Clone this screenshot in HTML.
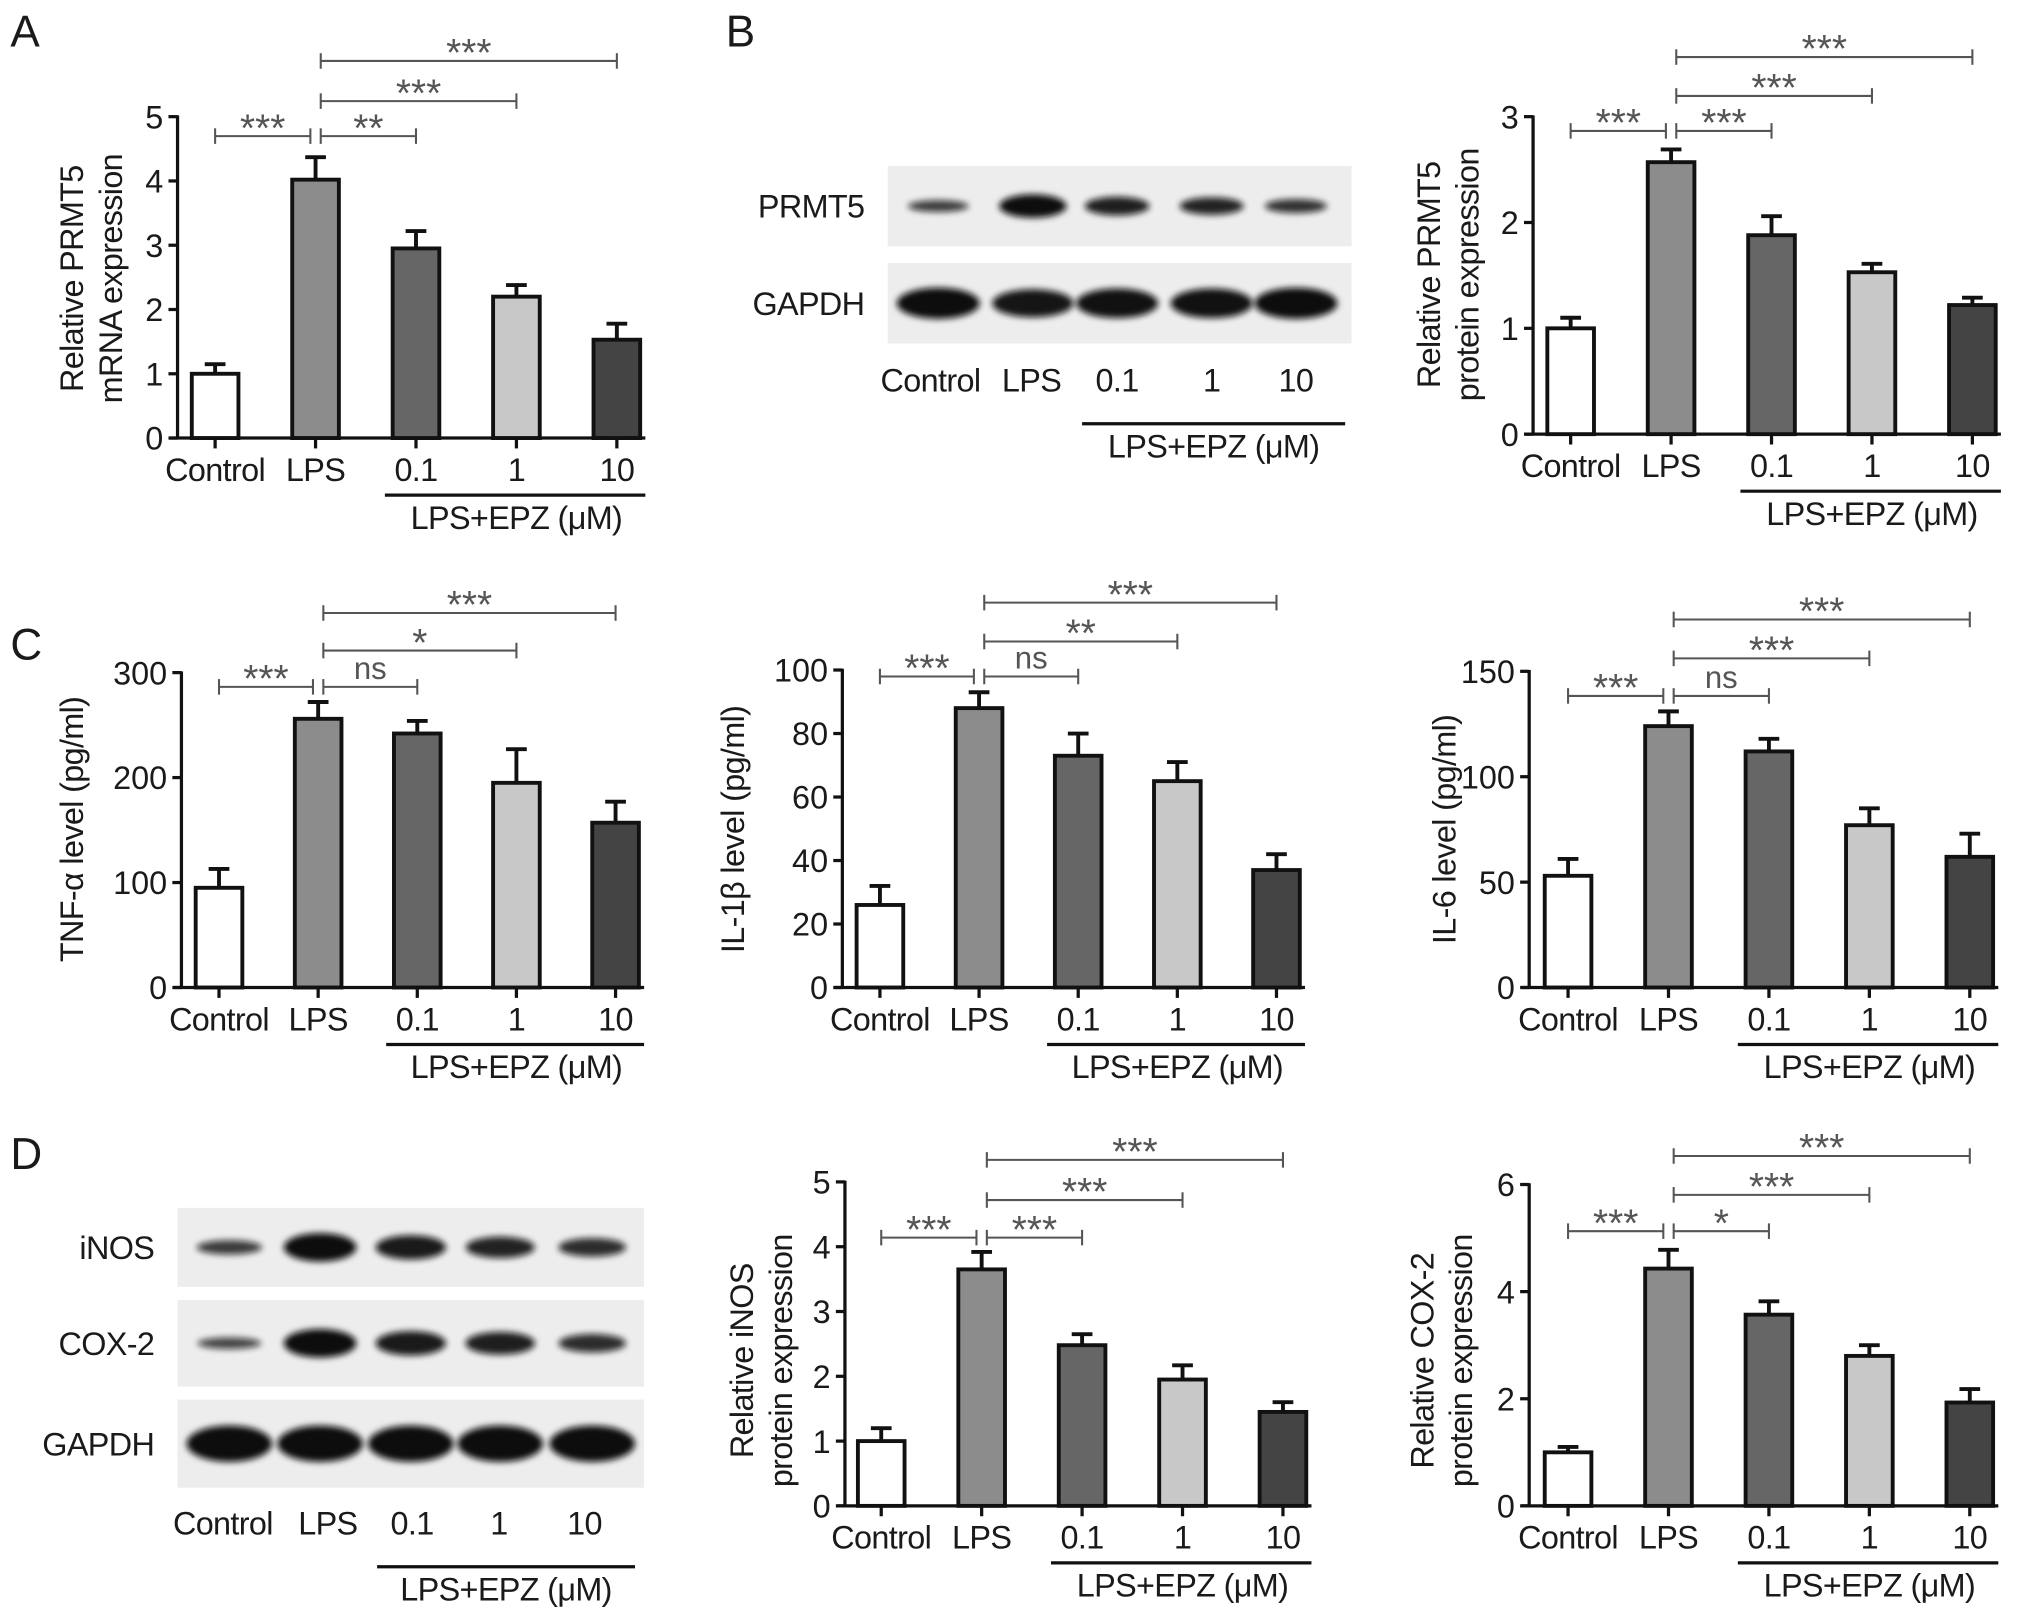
<!DOCTYPE html>
<html><head><meta charset="utf-8"><style>html,body{margin:0;padding:0;background:#fff}svg{display:block}text{font-family:"Liberation Sans",sans-serif}</style></head>
<body>
<svg id="fig" width="2032" height="1614" viewBox="0 0 1568 1245.4" xmlns="http://www.w3.org/2000/svg">
<defs><filter id="blur" x="-30%" y="-80%" width="160%" height="260%"><feGaussianBlur stdDeviation="2.5"/></filter></defs>
<g id="root"></g>
</svg>
<script>
// ---- data ----
const categories = ["Control","LPS","0.1","1","10"];
const aVals=[1.0,4.02,2.95,2.2,1.53], aErr=[0.15,0.35,0.27,0.18,0.25];
const bVals=[1.0,2.57,1.88,1.53,1.22], bErr=[0.1,0.12,0.18,0.08,0.07];
const c1Vals=[95,256,242,195,157], c1Err=[18,16,12,32,20];
const c2Vals=[26,88,73,65,37], c2Err=[6,5,7,6,5];
const c3Vals=[53,124,112,77,62], c3Err=[8,7,6,8,11];
const d2Vals=[1.0,3.65,2.48,1.95,1.45], d2Err=[0.2,0.27,0.17,0.22,0.15];
const d3Vals=[1.0,4.43,3.57,2.8,1.93], d3Err=[0.1,0.35,0.25,0.2,0.25];
const aTicks=[0,1,2,3,4,5], bTicks=[0,1,2,3], c1Ticks=[0,100,200,300], c2Ticks=[0,20,40,60,80,100], c3Ticks=[0,50,100,150], d2Ticks=[0,1,2,3,4,5], d3Ticks=[0,2,4,6];
const aSig=["***","**","***","***"], bSig=["***","***","***","***"], c1Sig=["***","ns","*","***"], c2Sig=["***","ns","**","***"], c3Sig=["***","ns","***","***"], d2Sig=["***","***","***","***"], d3Sig=["***","*","***","***"];
const prmt5Band=[0.5,1.0,0.8,0.75,0.6], gapdhBand=[1,0.9,0.95,0.95,1];
const inosBand=[0.5,1.0,0.85,0.75,0.65], coxBand=[0.4,1.0,0.85,0.8,0.65], gapdh2Band=[1,1,1,1,1];
// ---- helpers ----
const NS="http://www.w3.org/2000/svg";
const root=document.getElementById('root');
function mk(tag,attrs,parent){const e=document.createElementNS(NS,tag);for(const k in attrs)e.setAttribute(k,attrs[k]);(parent||root).appendChild(e);return e;}
function txt(s,x,y,size,anchor,parent,extra){const t=mk('text',Object.assign({x:x,y:y,'font-size':size,'text-anchor':anchor||'middle',fill:'#1a1a1a'},extra||{}),parent);t.textContent=s;return t;}
const fills=["#ffffff","#8c8c8c","#666666","#c8c8c8","#444444"];
function chart(name,o){
  const g=mk('g',{});
  
  
  const max=o.ticks[o.ticks.length-1];
  const y=v=>o.y0-(v/max)*(o.y0-o.yTop);
  const bx=i=>o.bx0+i*o.step;
  o.vals.forEach((v,i)=>{
    const cx=bx(i), top=y(v), et=y(v+o.err[i]);
    const l=mk('line',{x1:cx,x2:cx,y1:top,y2:et,stroke:'#111','stroke-width':3},g);
    
    
    mk('line',{x1:cx-8,x2:cx+8,y1:et,y2:et,stroke:'#111','stroke-width':3},g);
    const r=mk('rect',{x:cx-18,y:top,width:36,height:o.y0-top,fill:fills[i],stroke:'#111','stroke-width':3},g);
    
    
  });
  const ya=mk('line',{x1:o.ax,x2:o.ax,y1:o.yTop-1,y2:o.y0,stroke:'#111','stroke-width':2.5},g);
  
  
  const xa=mk('line',{x1:o.ax-6,x2:bx(4)+22,y1:o.y0,y2:o.y0,stroke:'#111','stroke-width':2.5},g);
  
  
  o.ticks.forEach(t=>{const yy=y(t);mk('line',{x1:o.ax-7,x2:o.ax,y1:yy,y2:yy,stroke:'#111','stroke-width':2.5},g);
    const tl=txt(String(t),o.ax-11,yy+9,25,'end',g);
    
    });
  categories.forEach((c,i)=>{mk('line',{x1:bx(i),x2:bx(i),y1:o.y0,y2:o.y0+8,stroke:'#111','stroke-width':2.5},g);
    const tl=txt(c,bx(i),o.y0+33,25,'middle',g,{'letter-spacing':'-0.5'});
    
    });
  const ul=o.y0+44;
  mk('line',{x1:bx(2)-24,x2:bx(4)+22,y1:ul,y2:ul,stroke:'#111','stroke-width':2.5},g);
  const gl=txt('LPS+EPZ (μM)',(bx(2)+bx(4))/2,ul+26,25,'middle',g,{'letter-spacing':'-0.5'});
  
  
  const lab=mk('g',{transform:`translate(${o.lx},${o.lcy}) rotate(-90)`},g);
  
  
  o.ylab.forEach((s,k)=>txt(s,0,k*30,25,'middle',lab,{'letter-spacing':'-0.5'}));
  const br=[[0,1,o.b1],[1,2,o.b1],[1,3,o.b2],[1,4,o.b3]];
  br.forEach((b,k)=>{
    const x1=bx(b[0])+(k==0?0:4), x2=bx(b[1])-(k==0?4:0), yy=b[2];
    const bg=mk('g',{},g);
    
    
    mk('line',{x1:x1,x2:x2,y1:yy,y2:yy,stroke:'#555','stroke-width':1.6},bg);
    mk('line',{x1:x1,x2:x1,y1:yy-6,y2:yy+6,stroke:'#555','stroke-width':1.6},bg);
    mk('line',{x1:x2,x2:x2,y1:yy-6,y2:yy+6,stroke:'#555','stroke-width':1.6},bg);
    const s=o.sig[k];
    txt(s,(x1+x2)/2,s=='ns'?yy-6:yy+4,s=='ns'?24:30,'middle',bg,{fill:'#555'});
  });
}
function blot(name,o){
  const g=mk('g',{});
  
  
  o.rows.forEach(r=>{
    mk('rect',{x:o.x,y:r.y,width:o.w,height:r.h,fill:'#ededed'},g);
    r.band.forEach((v,i)=>{const cx=o.lanes[i];
      const e=mk('ellipse',{cx:cx,cy:r.y+r.h/2,rx:r.rx*(0.8+0.2*v),ry:r.ry*v,fill:'#0a0a0a',opacity:0.6+0.4*v,filter:'url(#blur)'},g);
      
      });
    const t=txt(r.label,o.x-18,r.y+r.h/2+9,25,'end',g,{'letter-spacing':'-0.5'});
    
    
  });
  o.labels.forEach((s,i)=>txt(s,o.lx[i],o.ly,25,'middle',g,{'letter-spacing':'-0.5'}));
  mk('line',{x1:o.ul[0],x2:o.ul[1],y1:o.ly+25,y2:o.ly+25,stroke:'#111','stroke-width':2.5},g);
  txt('LPS+EPZ (μM)',(o.ul[0]+o.ul[1])/2,o.ly+51,25,'middle',g,{'letter-spacing':'-0.5'});
}
[['A',8,36],['B',560,36],['C',8,509],['D',8,902]].forEach(p=>{const t=txt(p[0],p[1],p[2],34,'start');});

chart('chart-a-prmt5-mrna',{ax:137,y0:338,yTop:90,bx0:166,step:77.5,ticks:aTicks,vals:aVals,err:aErr,sig:aSig,b1:105,b2:78,b3:47,lx:64,lcy:215,ylab:["Relative PRMT5","mRNA expression"]});
chart('chart-b-prmt5-protein',{ax:1183,y0:335,yTop:90,bx0:1212,step:77.5,ticks:bTicks,vals:bVals,err:bErr,sig:bSig,b1:101,b2:74,b3:44,lx:1111,lcy:212,ylab:["Relative PRMT5","protein expression"]});
chart('chart-c-tnf',{ax:140,y0:762,yTop:519,bx0:169,step:76.5,ticks:c1Ticks,vals:c1Vals,err:c1Err,sig:c1Sig,b1:530,b2:502,b3:473,lx:64,lcy:640,ylab:["TNF-α level (pg/ml)"]});
chart('chart-c-il1b',{ax:650,y0:762,yTop:517,bx0:679,step:76.5,ticks:c2Ticks,vals:c2Vals,err:c2Err,sig:c2Sig,b1:522,b2:495,b3:465,lx:574,lcy:640,ylab:["IL-1β level (pg/ml)"]});
chart('chart-c-il6',{ax:1180,y0:762,yTop:518,bx0:1210,step:77.5,ticks:c3Ticks,vals:c3Vals,err:c3Err,sig:c3Sig,b1:537,b2:508,b3:478,lx:1123,lcy:640,ylab:["IL-6 level (pg/ml)"]});
chart('chart-d-inos',{ax:652,y0:1162,yTop:912,bx0:680,step:77.5,ticks:d2Ticks,vals:d2Vals,err:d2Err,sig:d2Sig,b1:955,b2:926,b3:895,lx:581,lcy:1050,ylab:["Relative iNOS","protein expression"]});
chart('chart-d-cox2',{ax:1180,y0:1162,yTop:914,bx0:1210,step:77.5,ticks:d3Ticks,vals:d3Vals,err:d3Err,sig:d3Sig,b1:950,b2:922,b3:892,lx:1106,lcy:1050,ylab:["Relative COX-2","protein expression"]});

blot('blot-b',{x:685,w:358,lanes:[724,797,862,935,1000],rows:[{y:128,h:62,label:'PRMT5',band:prmt5Band,rx:26,ry:9},{y:203,h:62,label:'GAPDH',band:gapdhBand,rx:32,ry:12}],labels:categories,lx:[718,796,862,935,1000],ly:302,ul:[835,1038]});
blot('blot-d',{x:137,w:360,lanes:[177,247,317,386,457],rows:[{y:932,h:61,label:'iNOS',band:inosBand,rx:28,ry:11},{y:1003,h:67,label:'COX-2',band:coxBand,rx:28,ry:11},{y:1080,h:68,label:'GAPDH',band:gapdh2Band,rx:33,ry:14}],labels:categories,lx:[172,253,318,385,451],ly:1184,ul:[291,490]});
</script>
</body></html>
